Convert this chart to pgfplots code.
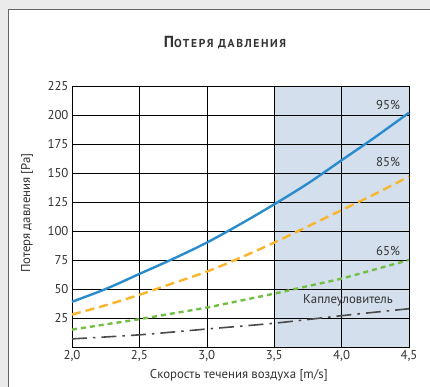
\documentclass[border=0pt]{standalone}
\usepackage{fontspec}
\setmainfont{PT Sans}
\newfontfamily\titlefont[LetterSpace=14]{PT Sans}
\usepackage{pgfplots}
\pgfplotsset{compat=1.18}
\definecolor{bgGray}{HTML}{EBEBEB}
\definecolor{frameGray}{HTML}{666666}
\definecolor{shade}{HTML}{D3DFEC}
\definecolor{c95}{HTML}{2B8CCD}
\definecolor{c85}{HTML}{FBB52A}
\definecolor{c65}{HTML}{71BF44}
\definecolor{cdrop}{HTML}{4A4A4A}
\definecolor{txt}{HTML}{333333}
\begin{document}
\begin{tikzpicture}
\begin{axis}[
    at={(72pt,-347pt)}, anchor=south west,
    scale only axis, width=337pt, height=261pt,
    set layers, clip=false,
    xmin=2, xmax=4.5, ymin=0, ymax=225,
    xtick={2,2.5,3,3.5,4,4.5},
    ytick={25,50,75,100,125,150,175,200,225},
    grid=major,
    major grid style={black, line width=0.6pt},
    axis line style={black, line width=1pt},
    tick style={draw=none},
    font=\fontsize{12.8}{14}\selectfont,
    ticklabel style={text=txt},
    /pgf/number format/assume math mode=true,
    xticklabel style={/pgf/number format/.cd, fixed, fixed zerofill, precision=1, use comma},
    yticklabel style={/pgf/number format/.cd, fixed, precision=0},
    xlabel={Скорость течения воздуха [m/s]},
    ylabel={Потеря давления [Pa]},
    xlabel style={at={(axis description cs:0.495,-0.107)}, anchor=center, text=txt},
    ylabel style={at={(axis description cs:-0.1335,0.513)}, anchor=center, text=txt},
]
% page background and white panel, below everything
\path (rel axis cs:0,0) coordinate (O);
\begin{pgfonlayer}{axis background}
\fill[bgGray] ([shift={(-72pt,347pt)}]O) rectangle ([shift={(358pt,-40pt)}]O);
\fill[white] ([shift={(-64pt,337pt)}]O) rectangle ([shift={(358pt,-40pt)}]O);
\draw[frameGray, line width=1pt] ([shift={(-64pt,-39.5pt)}]O) -- ([shift={(-64pt,337pt)}]O) -- ([shift={(357.5pt,337pt)}]O);
\end{pgfonlayer}
\addplot[fill=shade, draw=none, on layer=axis background]
  coordinates {(3.5,0) (4.5,0) (4.5,225) (3.5,225)} -- cycle;

% 95 %
\addplot[c95, line width=2.4pt, smooth] coordinates {
  (2.0,39) (2.25,50) (2.5,63) (2.75,76) (3.0,90) (3.25,106)
  (3.5,123) (3.75,141) (4.0,161) (4.25,181) (4.5,202)
};
% 85 %
\addplot[c85, line width=2.4pt, smooth, dash pattern=on 9pt off 5pt] coordinates {
  (2.0,28) (2.25,36) (2.5,45) (2.75,55) (3.0,65) (3.25,77)
  (3.5,90) (3.75,104) (4.0,118) (4.25,132) (4.5,147)
};
% 65 %
\addplot[c65, line width=2.4pt, smooth, dash pattern=on 5pt off 4pt] coordinates {
  (2.0,15) (2.25,19.5) (2.5,24) (2.75,29) (3.0,34) (3.25,40)
  (3.5,46) (3.75,52.5) (4.0,59) (4.25,67) (4.5,75)
};
% droplet separator
\addplot[cdrop, line width=1.6pt, smooth, dash pattern=on 15pt off 6pt on 2.5pt off 6pt] coordinates {
  (2.0,7) (2.5,10.5) (3.0,15.5) (3.5,20.5) (4.0,27) (4.5,33)
};

\node[anchor=east, text=txt] at (axis cs:4.46,208.5) {95\%};
\node[anchor=east, text=txt] at (axis cs:4.46,159.5) {85\%};
\node[anchor=east, text=txt] at (axis cs:4.46,82.8) {65\%};
\node[text=txt] at (axis cs:4.047,40.5) {Каплеуловитель};
\node[text=txt, font=\titlefont\bfseries] at ([shift={(153pt,304pt)}]O)
  {{\fontsize{16}{16}\selectfont П}{\fontsize{11.5}{11.5}\selectfont ОТЕРЯ ДАВЛЕНИЯ}};
\end{axis}
\end{tikzpicture}
\end{document}
